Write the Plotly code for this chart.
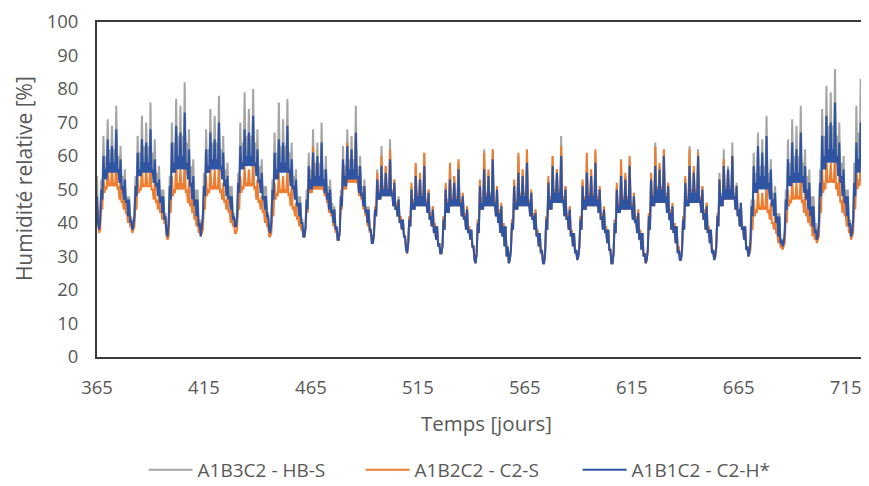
import plotly.graph_objects as go

# ---- data: relative humidity (%), daily maximum and daily minimum, from day 365 ----
START_DAY = 365
X_TICKS = [365, 415, 465, 515, 565, 615, 665, 715]
Y_TICKS = [0, 10, 20, 30, 40, 50, 60, 70, 80, 90, 100]
SERIES_NAMES = ["A1B3C2 - HB-S", "A1B2C2 - C2-S", "A1B1C2 - C2-H*"]

gray_max = [54,
    38, 53, 66, 60, 71, 62, 69, 62, 75, 60, 63, 54, 56, 48, 48, 42,
    39, 54, 66, 61, 72, 63, 70, 63, 76, 61, 65, 55, 57, 50, 50, 43,
    36, 54, 70, 64, 77, 66, 75, 66, 82, 64, 68, 57, 59, 50, 50, 41,
    39, 55, 68, 62, 74, 64, 72, 64, 78, 62, 66, 56, 58, 51, 51, 43,
    39, 55, 70, 64, 79, 66, 74, 66, 80, 64, 68, 57, 59, 51, 51, 43,
    37, 53, 67, 61, 76, 63, 71, 63, 77, 61, 64, 54, 56, 48, 48, 41,
    36, 50, 61, 56, 68, 58, 64, 58, 70, 56, 60, 51, 53, 46, 45, 39,
    35, 50, 63, 57, 68, 59, 66, 59, 75, 57, 60, 51, 53, 45, 45, 38,
    34, 45, 56, 50, 63, 51, 57, 51, 65, 50, 53, 46, 48, 42, 41, 36,
    31, 42, 51, 47, 57, 48, 54, 49, 61, 47, 50, 43, 45, 40, 39, 34,
    31, 42, 51, 47, 57, 48, 54, 48, 58, 47, 49, 43, 45, 39, 38, 33,
    28, 41, 52, 47, 62, 49, 55, 49, 62, 47, 50, 44, 45, 40, 39, 33,
    29, 41, 52, 47, 60, 49, 55, 49, 61, 47, 49, 43, 44, 38, 37, 32,
    28, 42, 53, 48, 60, 50, 56, 50, 66, 48, 51, 43, 45, 38, 37, 32,
    30, 42, 52, 48, 60, 49, 55, 49, 61, 48, 50, 43, 44, 39, 38, 32,
    28, 41, 51, 46, 58, 48, 54, 48, 59, 46, 49, 42, 44, 38, 37, 31,
    29, 43, 54, 49, 64, 51, 57, 51, 62, 49, 52, 44, 45, 40, 39, 33,
    29, 42, 53, 48, 63, 50, 56, 50, 62, 48, 51, 44, 46, 39, 38, 32,
    30, 43, 55, 49, 62, 51, 57, 51, 64, 49, 52, 44, 46, 39, 39, 33,
    31, 47, 61, 55, 67, 57, 65, 57, 72, 55, 59, 49, 51, 43, 43, 35,
    34, 50, 65, 58, 71, 60, 69, 60, 75, 58, 62, 54, 56, 48, 48, 40,
    36, 56, 74, 66, 81, 69, 79, 69, 86, 66, 70, 58, 60, 50, 50, 41,
    37, 58, 75, 67, 83, 70, 78, 70, 84]

gray_min = [41,
    42, 48, 54, 54, 56, 56, 56, 56, 56, 53, 51, 48, 47, 43, 41, 39,
    43, 49, 55, 55, 56, 56, 56, 56, 56, 53, 52, 49, 47, 44, 42, 37,
    41, 48, 56, 56, 57, 57, 57, 57, 57, 54, 52, 48, 46, 43, 40, 37,
    43, 49, 56, 56, 57, 57, 57, 57, 57, 54, 52, 49, 48, 45, 42, 39,
    43, 50, 57, 57, 58, 58, 58, 58, 58, 55, 53, 50, 48, 45, 43, 38,
    41, 48, 54, 54, 56, 56, 56, 56, 56, 52, 51, 48, 46, 43, 41, 36,
    39, 44, 50, 50, 51, 51, 51, 51, 51, 49, 47, 44, 43, 40, 38, 35,
    38, 45, 51, 51, 53, 53, 53, 53, 53, 49, 48, 45, 43, 40, 38, 34,
    37, 42, 47, 47, 48, 48, 48, 48, 48, 45, 44, 42, 40, 38, 36, 32,
    34, 39, 44, 44, 45, 45, 45, 45, 45, 43, 41, 39, 37, 35, 33, 31,
    33, 38, 43, 43, 45, 45, 45, 45, 45, 42, 41, 38, 37, 35, 33, 29,
    31, 37, 44, 44, 45, 45, 45, 45, 45, 42, 40, 37, 36, 33, 30, 28,
    32, 38, 44, 44, 45, 45, 45, 45, 45, 42, 41, 38, 36, 33, 31, 28,
    31, 38, 44, 44, 46, 46, 46, 46, 46, 42, 41, 38, 36, 33, 31, 29,
    33, 38, 44, 44, 45, 45, 45, 45, 45, 43, 41, 38, 37, 34, 32, 28,
    31, 37, 43, 43, 44, 44, 44, 44, 44, 41, 40, 37, 35, 32, 30, 28,
    32, 38, 45, 45, 46, 46, 46, 46, 46, 43, 41, 38, 37, 34, 31, 29,
    32, 38, 45, 45, 46, 46, 46, 46, 46, 43, 41, 38, 37, 34, 31, 29,
    33, 39, 45, 45, 47, 47, 47, 47, 47, 44, 42, 39, 38, 35, 32, 30,
    36, 43, 50, 50, 51, 51, 51, 51, 51, 48, 46, 43, 41, 37, 35, 33,
    38, 45, 52, 52, 53, 53, 53, 53, 53, 50, 48, 45, 43, 40, 38, 35,
    41, 49, 57, 57, 59, 59, 59, 59, 59, 55, 53, 49, 47, 43, 40, 36,
    42, 49, 56, 56, 58, 58, 58, 58, 59]

orange_max = [45,
    37, 46, 54, 51, 58, 52, 57, 52, 60, 51, 53, 47, 48, 43, 43, 39,
    38, 46, 54, 50, 57, 51, 56, 51, 59, 50, 52, 47, 48, 44, 44, 40,
    35, 46, 54, 50, 58, 52, 56, 52, 60, 50, 53, 47, 48, 43, 43, 38,
    37, 46, 54, 50, 57, 51, 56, 51, 59, 50, 52, 47, 48, 44, 44, 40,
    37, 46, 54, 51, 57, 52, 56, 52, 60, 51, 53, 47, 48, 44, 44, 39,
    36, 44, 52, 49, 55, 50, 54, 50, 57, 49, 51, 45, 46, 42, 42, 38,
    36, 46, 56, 50, 63, 51, 58, 52, 61, 50, 53, 47, 49, 43, 43, 38,
    35, 47, 58, 52, 64, 54, 61, 54, 65, 52, 55, 48, 50, 43, 43, 38,
    34, 45, 55, 50, 60, 51, 57, 51, 62, 50, 53, 46, 47, 42, 41, 36,
    31, 42, 52, 47, 58, 49, 55, 49, 61, 47, 50, 43, 45, 40, 39, 34,
    31, 42, 52, 47, 58, 48, 54, 48, 59, 47, 49, 43, 45, 39, 38, 33,
    28, 41, 53, 47, 61, 49, 56, 49, 62, 47, 51, 44, 46, 40, 39, 33,
    29, 41, 53, 47, 61, 49, 56, 49, 62, 47, 50, 43, 44, 38, 37, 32,
    28, 42, 54, 48, 60, 50, 56, 50, 63, 48, 51, 43, 45, 38, 37, 32,
    30, 42, 53, 48, 61, 49, 56, 49, 62, 48, 51, 43, 45, 39, 38, 32,
    28, 41, 52, 46, 59, 48, 55, 48, 60, 46, 49, 42, 44, 38, 37, 31,
    29, 43, 55, 49, 63, 51, 58, 51, 62, 49, 52, 44, 46, 40, 39, 33,
    29, 42, 54, 48, 62, 50, 57, 50, 61, 48, 51, 44, 46, 39, 38, 32,
    30, 42, 53, 48, 59, 50, 56, 50, 60, 48, 51, 44, 46, 39, 39, 33,
    31, 39, 47, 44, 50, 45, 49, 45, 53, 44, 46, 40, 42, 37, 37, 33,
    33, 42, 50, 47, 53, 48, 52, 48, 56, 47, 49, 44, 45, 41, 41, 36,
    35, 46, 56, 52, 60, 53, 58, 53, 63, 52, 54, 47, 49, 43, 43, 38,
    36, 47, 57, 53, 62, 55, 60, 56, 63]

orange_min = [39,
    38, 44, 49, 50, 51, 51, 51, 51, 50, 47, 46, 44, 43, 40, 39, 37,
    39, 44, 49, 50, 51, 51, 51, 51, 50, 47, 46, 44, 43, 41, 40, 36,
    36, 43, 48, 49, 50, 50, 50, 50, 49, 46, 45, 43, 41, 39, 37, 36,
    38, 44, 48, 49, 50, 50, 50, 50, 49, 47, 46, 44, 43, 40, 39, 37,
    38, 44, 49, 50, 51, 51, 51, 51, 50, 47, 46, 44, 43, 40, 39, 36,
    37, 42, 47, 48, 49, 49, 49, 49, 48, 45, 44, 42, 41, 39, 38, 36,
    38, 43, 49, 49, 50, 50, 50, 50, 50, 48, 46, 43, 42, 39, 37, 35,
    37, 44, 50, 50, 52, 52, 52, 52, 52, 48, 47, 44, 42, 39, 37, 34,
    37, 42, 47, 47, 48, 48, 48, 48, 48, 45, 44, 42, 40, 38, 36, 32,
    34, 39, 44, 44, 45, 45, 45, 45, 45, 43, 41, 39, 37, 35, 33, 31,
    33, 38, 43, 43, 45, 45, 45, 45, 45, 42, 41, 38, 37, 35, 33, 29,
    31, 37, 44, 44, 45, 45, 45, 45, 45, 42, 40, 37, 36, 33, 30, 28,
    32, 38, 44, 44, 45, 45, 45, 45, 45, 42, 41, 38, 36, 33, 31, 28,
    31, 38, 44, 44, 46, 46, 46, 46, 46, 42, 41, 38, 36, 33, 31, 29,
    33, 38, 44, 44, 45, 45, 45, 45, 45, 43, 41, 38, 37, 34, 32, 28,
    31, 37, 43, 43, 44, 44, 44, 44, 44, 41, 40, 37, 35, 32, 30, 28,
    32, 38, 45, 45, 46, 46, 46, 46, 46, 43, 41, 38, 37, 34, 31, 29,
    32, 38, 45, 45, 46, 46, 46, 46, 46, 43, 41, 38, 37, 34, 31, 29,
    33, 39, 45, 45, 47, 47, 47, 47, 47, 44, 42, 39, 38, 35, 32, 30,
    32, 38, 42, 43, 44, 44, 44, 44, 43, 41, 40, 38, 37, 34, 33, 32,
    34, 40, 45, 46, 47, 47, 47, 47, 46, 43, 42, 40, 39, 36, 35, 34,
    36, 43, 49, 50, 52, 52, 52, 52, 50, 48, 46, 43, 42, 39, 37, 35,
    37, 44, 50, 51, 52, 52, 52, 52, 53]

blue_max = [48,
    38, 50, 60, 56, 65, 58, 63, 58, 68, 56, 59, 51, 53, 47, 47, 41,
    39, 51, 61, 56, 65, 58, 64, 58, 68, 56, 59, 52, 53, 48, 48, 42,
    36, 51, 64, 58, 69, 60, 67, 60, 73, 58, 62, 52, 54, 47, 47, 40,
    39, 51, 62, 57, 67, 59, 65, 59, 70, 57, 61, 53, 54, 48, 48, 42,
    39, 52, 63, 58, 68, 60, 67, 60, 72, 58, 62, 53, 55, 48, 48, 42,
    37, 50, 61, 56, 65, 58, 64, 58, 69, 56, 59, 51, 53, 46, 46, 40,
    36, 47, 57, 53, 61, 54, 60, 54, 64, 53, 56, 49, 50, 44, 44, 39,
    35, 48, 59, 54, 63, 56, 62, 56, 67, 54, 57, 49, 51, 44, 44, 38,
    34, 44, 53, 49, 57, 50, 55, 50, 59, 49, 52, 45, 47, 41, 41, 36,
    31, 41, 50, 46, 54, 48, 53, 48, 57, 46, 49, 42, 44, 39, 39, 34,
    31, 41, 50, 46, 53, 47, 52, 47, 56, 46, 48, 42, 44, 38, 38, 33,
    28, 40, 51, 46, 56, 48, 54, 48, 59, 46, 50, 43, 45, 39, 39, 33,
    29, 40, 51, 46, 55, 48, 54, 48, 58, 46, 49, 42, 43, 37, 37, 32,
    28, 41, 52, 47, 57, 49, 55, 49, 60, 47, 50, 42, 44, 37, 37, 32,
    30, 41, 51, 47, 55, 48, 54, 48, 58, 47, 50, 42, 44, 38, 38, 32,
    28, 40, 50, 45, 54, 47, 53, 47, 57, 45, 48, 41, 43, 37, 37, 31,
    29, 42, 53, 48, 57, 50, 56, 50, 60, 48, 51, 43, 45, 39, 39, 32,
    29, 41, 52, 47, 57, 49, 55, 49, 60, 47, 50, 43, 45, 38, 38, 32,
    30, 42, 53, 48, 57, 50, 56, 50, 60, 48, 51, 44, 46, 39, 39, 33,
    31, 45, 57, 52, 63, 54, 61, 54, 66, 52, 56, 47, 49, 42, 42, 35,
    34, 47, 59, 54, 64, 55, 62, 55, 67, 54, 57, 50, 52, 45, 45, 38,
    36, 52, 66, 60, 72, 62, 70, 62, 76, 60, 64, 54, 56, 48, 48, 40,
    37, 52, 64, 59, 70, 62, 68, 62, 73]

blue_min = [40,
    41, 47, 53, 53, 55, 55, 55, 55, 55, 52, 50, 47, 46, 42, 40, 38,
    42, 48, 54, 54, 55, 55, 55, 55, 55, 52, 51, 48, 46, 43, 41, 37,
    40, 47, 55, 55, 56, 56, 56, 56, 56, 53, 51, 47, 45, 42, 39, 36,
    42, 48, 55, 55, 56, 56, 56, 56, 56, 53, 51, 48, 47, 44, 41, 39,
    42, 49, 56, 56, 57, 57, 57, 57, 57, 54, 52, 49, 47, 44, 42, 38,
    40, 47, 53, 53, 55, 55, 55, 55, 55, 51, 50, 47, 45, 42, 40, 36,
    39, 44, 50, 50, 51, 51, 51, 51, 51, 49, 47, 44, 43, 40, 38, 35,
    38, 45, 51, 51, 53, 53, 53, 53, 53, 49, 48, 45, 43, 40, 38, 34,
    37, 42, 47, 47, 48, 48, 48, 48, 48, 45, 44, 42, 40, 38, 36, 32,
    34, 39, 44, 44, 45, 45, 45, 45, 45, 43, 41, 39, 37, 35, 33, 31,
    33, 38, 43, 43, 45, 45, 45, 45, 45, 42, 41, 38, 37, 35, 33, 29,
    31, 37, 44, 44, 45, 45, 45, 45, 45, 42, 40, 37, 36, 33, 30, 28,
    32, 38, 44, 44, 45, 45, 45, 45, 45, 42, 41, 38, 36, 33, 31, 28,
    31, 38, 44, 44, 46, 46, 46, 46, 46, 42, 41, 38, 36, 33, 31, 29,
    33, 38, 44, 44, 45, 45, 45, 45, 45, 43, 41, 38, 37, 34, 32, 28,
    31, 37, 43, 43, 44, 44, 44, 44, 44, 41, 40, 37, 35, 32, 30, 28,
    32, 38, 45, 45, 46, 46, 46, 46, 46, 43, 41, 38, 37, 34, 31, 29,
    32, 38, 45, 45, 46, 46, 46, 46, 46, 43, 41, 38, 37, 34, 31, 29,
    33, 39, 45, 45, 47, 47, 47, 47, 47, 44, 42, 39, 38, 35, 32, 30,
    35, 42, 49, 49, 50, 50, 50, 50, 50, 47, 45, 42, 40, 36, 34, 33,
    37, 44, 51, 51, 52, 52, 52, 52, 52, 49, 47, 44, 42, 39, 37, 35,
    40, 48, 56, 56, 58, 58, 58, 58, 58, 54, 52, 48, 46, 42, 39, 36,
    41, 48, 55, 55, 57, 57, 57, 57, 58]

COLORS = ["#A5A5A5", "#ED7D31", "#2F54A2"]
TEXT_COLOR = "#595959"
FONT = "Open Sans"


def day_series(daily_max, daily_min):
    """Daily maximum at the start of each day, daily minimum at mid-day."""
    xs, ys = [], []
    for i, (hi, lo) in enumerate(zip(daily_max, daily_min)):
        d = START_DAY + i
        xs += [d, d + 0.5]
        ys += [hi, lo]
    return xs, ys


fig = go.Figure()
for name, mx, mn, col in zip(SERIES_NAMES,
                             [gray_max, orange_max, blue_max],
                             [gray_min, orange_min, blue_min], COLORS):
    xs, ys = day_series(mx, mn)
    fig.add_trace(go.Scatter(x=xs, y=ys, mode="lines", name=name,
                             line=dict(color=col, width=2)))

# the page body has an 8 px margin, so the figure is 8 px smaller than the window
fig.update_layout(
    width=861, height=478,
    margin=dict(l=89, r=0, t=14, b=129, autoexpand=False),
    paper_bgcolor="white", plot_bgcolor="white",
    font=dict(family=FONT, color=TEXT_COLOR, size=18),
    showlegend=True,
    legend=dict(orientation="h", x=0.482, xanchor="center", y=-0.337, yanchor="middle",
                font=dict(size=19, color=TEXT_COLOR), bgcolor="rgba(0,0,0,0)",
                itemwidth=44, entrywidth=158, traceorder="normal"),
    annotations=[
        dict(text="Temps [jours]", xref="paper", yref="paper", x=0.505, y=0,
             xanchor="center", yanchor="middle", yshift=-66, showarrow=False,
             font=dict(size=20.5, color=TEXT_COLOR, family=FONT)),
        dict(text="Humidité relative [%]", xref="paper", yref="paper", x=0, y=0.531,
             xanchor="center", yanchor="middle", xshift=-73, textangle=-90, showarrow=False,
             borderpad=0, font=dict(size=21, color=TEXT_COLOR, family=FONT)),
    ],
)
fig.update_xaxes(range=[365, 725.9], tickvals=X_TICKS, showgrid=False, zeroline=False,
                 showline=True, linecolor="#3a3a3a", linewidth=1.8, mirror=True,
                 automargin=False,
                 ticks="", ticklabelstandoff=13, tickfont=dict(size=18.5, color=TEXT_COLOR))
fig.update_yaxes(range=[0, 100], tickvals=Y_TICKS, showgrid=False, zeroline=False,
                 showline=True, linecolor="#3a3a3a", linewidth=1.8, mirror=True,
                 automargin=False,
                 ticks="", ticklabelstandoff=13, tickfont=dict(size=18.5, color=TEXT_COLOR))

fig.write_html("out.html")
